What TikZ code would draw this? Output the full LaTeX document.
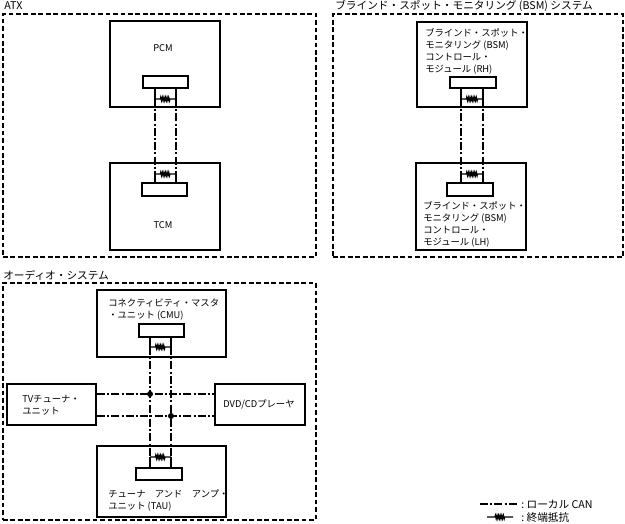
\documentclass[tikz,border=0pt]{standalone}
\usepackage{fontspec}
\setmainfont{Noto Sans CJK JP}
\usetikzlibrary{fit,decorations.pathmorphing}

\begin{document}
\begin{tikzpicture}[x=0.75pt,y=-0.75pt,
  font=\fontsize{7}{9}\selectfont,
  frame/.style={draw,line width=0.9pt,dash pattern=on 3.6pt off 2pt},
  ecu/.style={draw,line width=1.5pt,inner sep=0pt},
  conn/.style={draw,line width=1.3pt,inner sep=0pt},
  can/.style={line width=1.7pt,dash pattern=on 6pt off 1.6pt on 1.6pt off 1.6pt},
  stub/.style={line width=1.7pt},
  termres/.style={line width=0.9pt,decorate,decoration={zigzag,
    segment length=1.2pt,amplitude=1.3pt,pre length=#1,post length=#1}},
  termres/.default=4pt,
  txt/.style={anchor=north west,inner sep=0pt,align=left},
  ttl/.style={anchor=base west,inner sep=0pt,font=\fontsize{8}{10}\selectfont},
  leg/.style={anchor=west,inner sep=0pt,font=\fontsize{8}{10}\selectfont},
  jdot/.style={circle,fill,inner sep=0pt,minimum size=4.5pt}]
\useasboundingbox (0,0) rectangle (625,524);

% system frames
\node[frame,inner sep=0pt,fit={(3,14) (316,257)}] (atx) {};
\node[frame,inner sep=0pt,fit={(333,14) (623,257)}] (bsm) {};
\node[frame,inner sep=0pt,fit={(3,283) (316,520)}] (audio) {};
\node[ttl] at (4,10) {ATX};
\node[ttl] at (335,10) {ブラインド・スポット・モニタリング (BSM) システム};
\node[ttl] at (3,279) {オーディオ・システム};

% ATX
\node[ecu,fit={(110,21) (220,107)}] (pcm) {};
\node[ecu,fit={(110,163) (220,250)}] (tcm) {};
\node[conn,fit={(143,76) (188,88)}] (pcmc) {};
\node[conn,fit={(142,183) (187,196)}] (tcmc) {};
\node at (163,48) {PCM};
\node at (163,225) {TCM};
\coordinate (pcmH) at (155,99);
\coordinate (pcmL) at (176,99);
\coordinate (tcmH) at (155,174);
\coordinate (tcmL) at (176,174);
\draw[stub] (pcmc.south -| pcmH) -- (pcmH);
\draw[stub] (pcmc.south -| pcmL) -- (pcmL);
\draw[stub] (tcmc.north -| tcmH) -- (tcmH);
\draw[stub] (tcmc.north -| tcmL) -- (tcmL);
\draw[can] (pcmH) -- (tcmH);
\draw[can] (pcmL) -- (tcmL);
\draw[termres] (pcmH) -- (pcmL);
\draw[termres] (tcmH) -- (tcmL);

% BSM
\node[ecu,fit={(417,22) (527,107)}] (rh) {};
\node[ecu,fit={(416,163) (526,250)}] (lh) {};
\node[conn,fit={(450,77) (496,88)}] (rhc) {};
\node[conn,fit={(447,183) (493,196)}] (lhc) {};
\node[txt] at (425,28) {ブラインド・スポット・\\モニタリング (BSM)\\コントロール・\\モジュール (RH)};
\node[txt] at (423,201) {ブラインド・スポット・\\モニタリング (BSM)\\コントロール・\\モジュール (LH)};
\coordinate (rhH) at (461,99);
\coordinate (rhL) at (483,99);
\coordinate (lhH) at (461,174);
\coordinate (lhL) at (483,174);
\draw[stub] (rhc.south -| rhH) -- (rhH);
\draw[stub] (rhc.south -| rhL) -- (rhL);
\draw[stub] (lhc.north -| lhH) -- (lhH);
\draw[stub] (lhc.north -| lhL) -- (lhL);
\draw[can] (rhH) -- (lhH);
\draw[can] (rhL) -- (lhL);
\draw[termres] (rhH) -- (rhL);
\draw[termres] (lhH) -- (lhL);

% audio
\node[ecu,fit={(97,290) (226,357)}] (cmu) {};
\node[ecu,fit={(97,446) (226,517)}] (tau) {};
\node[ecu,fit={(7,384) (96,425)}] (tv) {};
\node[ecu,fit={(215,384) (305,425)}] (dvd) {};
\node[conn,fit={(139,324) (184,337)}] (cmuc) {};
\node[conn,fit={(136,468) (182,480)}] (tauc) {};
\node[txt] at (108,299) {コネクティビティ・マスタ\\・ユニット (CMU)};
\node[txt] at (108,489) {チューナ　アンド　アンプ・\\ユニット (TAU)};
\node[txt] at (22,395) {TVチューナ・\\ユニット};
\node at (259,404) {DVD/CDプレーヤ};
\coordinate (cmuH) at (150,347);
\coordinate (cmuL) at (171,347);
\coordinate (tauH) at (150,457);
\coordinate (tauL) at (171,457);
\coordinate (jH) at (150,394);
\coordinate (jL) at (171,416);
\draw[stub] (cmuc.south -| cmuH) -- (cmuH);
\draw[stub] (cmuc.south -| cmuL) -- (cmuL);
\draw[stub] (tauc.north -| tauH) -- (tauH);
\draw[stub] (tauc.north -| tauL) -- (tauL);
\draw[can] (cmuH) -- (tauH);
\draw[can] (cmuL) -- (tauL);
\draw[can] (tv.east |- jH) -- (dvd.west |- jH);
\draw[can] (tv.east |- jL) -- (dvd.west |- jL);
\node[jdot] at (jH) {};
\node[jdot] at (jL) {};
\draw[termres] (cmuH) -- (cmuL);
\draw[termres] (tauH) -- (tauL);

% legend
\coordinate (legA) at (480,504);
\coordinate (legB) at (518,504);
\coordinate (legC) at (487,517);
\coordinate (legD) at (513,517);
\draw[can] (legA) -- (legB);
\draw[termres=6pt] (legC) -- (legD);
\node[leg] at (521,504) {:\ ローカル CAN};
\node[leg] at (521,517) {:\ 終端抵抗};
\end{tikzpicture}
\end{document}
